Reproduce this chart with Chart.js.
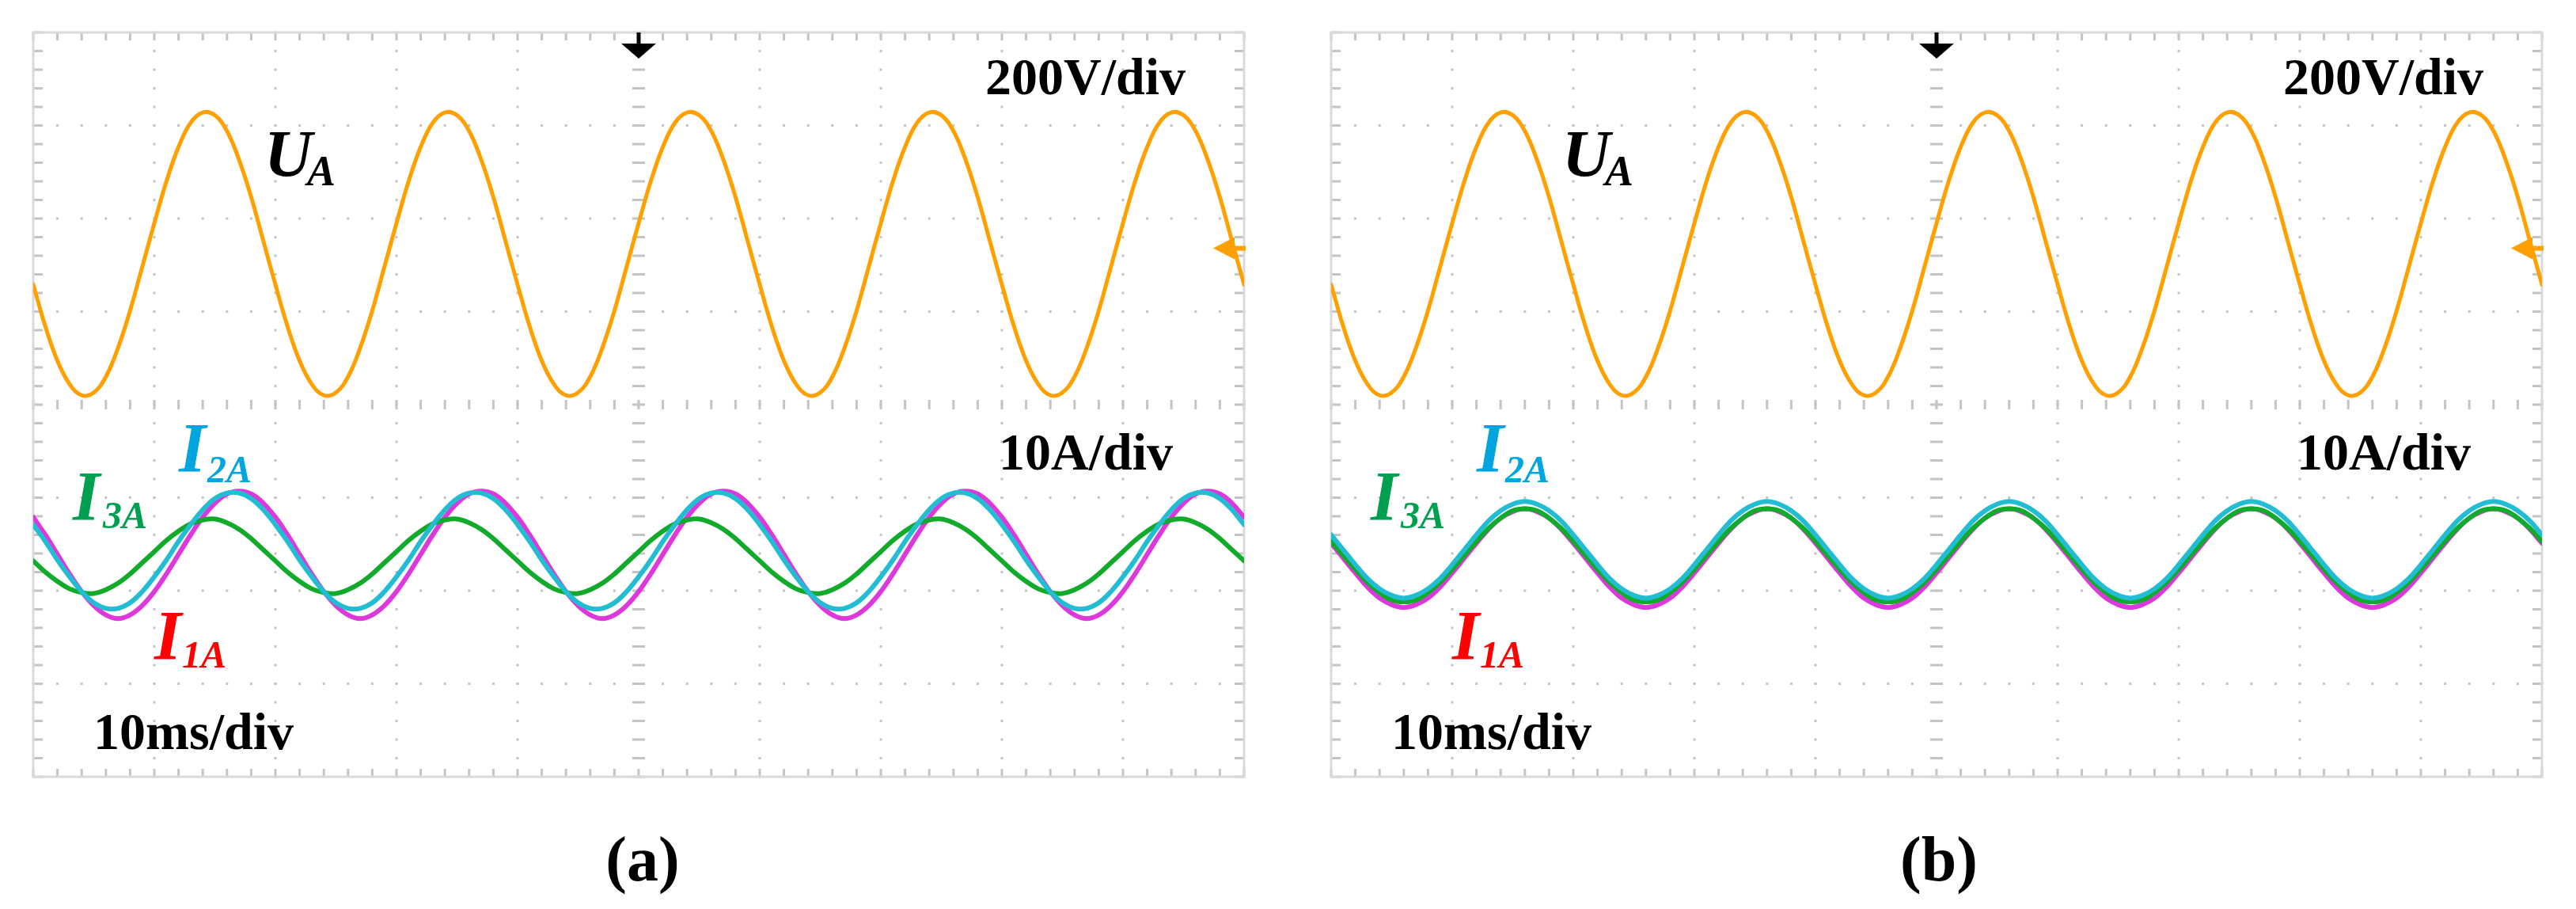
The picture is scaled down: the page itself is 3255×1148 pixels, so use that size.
<!DOCTYPE html>
<html>
<head>
<meta charset="utf-8">
<script src="https://cdn.jsdelivr.net/npm/chart.js@4.4.1/dist/chart.umd.min.js"></script>
<style>
	body { margin: 0; width: 3255px; height: 1148px; background: #fff; position: relative; overflow: hidden; font-family: "Liberation Serif", "Times New Roman", serif }
	.scope { position: absolute; top: 37px; width: 1538px; height: 948px }
	.txt { position: absolute; line-height: 1; white-space: nowrap }
</style>
</head>
<body>
<div class="scope" style="left: 38px"><canvas id="scope-a"></canvas></div>
<div class="scope" style="left: 1678px"><canvas id="scope-b"></canvas></div>
<script>
// time in ms (10 ms/div), values in screen divisions
const times = [0, 1, 2, 3, 4, 5, 6, 7, 8, 9, 10, 11, 12, 13, 14, 15, 16, 17, 18, 19,
	20, 21, 22, 23, 24, 25, 26, 27, 28, 29, 30, 31, 32, 33, 34, 35, 36, 37, 38, 39,
	40, 41, 42, 43, 44, 45, 46, 47, 48, 49, 50, 51, 52, 53, 54, 55, 56, 57, 58, 59,
	60, 61, 62, 63, 64, 65, 66, 67, 68, 69, 70, 71, 72, 73, 74, 75, 76, 77, 78, 79,
	80, 81, 82, 83, 84, 85, 86, 87, 88, 89, 90, 91, 92, 93, 94, 95, 96, 97, 98, 99, 100]

const uA = [1.29, 0.84, 0.47, 0.22, 0.10, 0.13, 0.30, 0.61, 1.01, 1.48, 1.95, 2.40, 2.77, 3.03, 3.14, 3.11, 2.94, 2.63, 2.23, 1.76,
	1.29, 0.84, 0.47, 0.22, 0.10, 0.13, 0.30, 0.61, 1.01, 1.48, 1.95, 2.40, 2.77, 3.03, 3.14, 3.11, 2.94, 2.63, 2.23, 1.76,
	1.29, 0.84, 0.47, 0.22, 0.10, 0.13, 0.30, 0.61, 1.01, 1.48, 1.95, 2.40, 2.77, 3.03, 3.14, 3.11, 2.94, 2.63, 2.23, 1.76,
	1.29, 0.84, 0.47, 0.22, 0.10, 0.13, 0.30, 0.61, 1.01, 1.48, 1.95, 2.40, 2.77, 3.03, 3.14, 3.11, 2.94, 2.63, 2.23, 1.76,
	1.29, 0.84, 0.47, 0.22, 0.10, 0.13, 0.30, 0.61, 1.01, 1.48, 1.95, 2.40, 2.77, 3.03, 3.14, 3.11, 2.94, 2.63, 2.23, 1.76, 1.29]

// (a)
const i1a = [-1.21, -1.40, -1.61, -1.82, -2.01, -2.16, -2.26, -2.30, -2.26, -2.16, -2.01, -1.82, -1.61, -1.40, -1.21, -1.06, -0.96, -0.93, -0.96, -1.06,
	-1.21, -1.40, -1.61, -1.82, -2.01, -2.16, -2.26, -2.30, -2.26, -2.16, -2.01, -1.82, -1.61, -1.40, -1.21, -1.06, -0.96, -0.93, -0.96, -1.06,
	-1.21, -1.40, -1.61, -1.82, -2.01, -2.16, -2.26, -2.30, -2.26, -2.16, -2.01, -1.82, -1.61, -1.40, -1.21, -1.06, -0.96, -0.93, -0.96, -1.06,
	-1.21, -1.40, -1.61, -1.82, -2.01, -2.16, -2.26, -2.30, -2.26, -2.16, -2.01, -1.82, -1.61, -1.40, -1.21, -1.06, -0.96, -0.93, -0.96, -1.06,
	-1.21, -1.40, -1.61, -1.82, -2.01, -2.16, -2.26, -2.30, -2.26, -2.16, -2.01, -1.82, -1.61, -1.40, -1.21, -1.06, -0.96, -0.93, -0.96, -1.06, -1.21]
const i2a = [-1.29, -1.47, -1.67, -1.85, -2.01, -2.13, -2.19, -2.19, -2.13, -2.01, -1.85, -1.67, -1.47, -1.29, -1.13, -1.01, -0.95, -0.95, -1.01, -1.13,
	-1.29, -1.47, -1.67, -1.85, -2.01, -2.13, -2.19, -2.19, -2.13, -2.01, -1.85, -1.67, -1.47, -1.29, -1.13, -1.01, -0.95, -0.95, -1.01, -1.13,
	-1.29, -1.47, -1.67, -1.85, -2.01, -2.13, -2.19, -2.19, -2.13, -2.01, -1.85, -1.67, -1.47, -1.29, -1.13, -1.01, -0.95, -0.95, -1.01, -1.13,
	-1.29, -1.47, -1.67, -1.85, -2.01, -2.13, -2.19, -2.19, -2.13, -2.01, -1.85, -1.67, -1.47, -1.29, -1.13, -1.01, -0.95, -0.95, -1.01, -1.13,
	-1.29, -1.47, -1.67, -1.85, -2.01, -2.13, -2.19, -2.19, -2.13, -2.01, -1.85, -1.67, -1.47, -1.29, -1.13, -1.01, -0.95, -0.95, -1.01, -1.13, -1.29]
const i3a = [-1.68, -1.80, -1.90, -1.98, -2.02, -2.03, -1.99, -1.92, -1.82, -1.70, -1.58, -1.46, -1.36, -1.28, -1.24, -1.23, -1.27, -1.34, -1.44, -1.56,
	-1.68, -1.80, -1.90, -1.98, -2.02, -2.03, -1.99, -1.92, -1.82, -1.70, -1.58, -1.46, -1.36, -1.28, -1.24, -1.23, -1.27, -1.34, -1.44, -1.56,
	-1.68, -1.80, -1.90, -1.98, -2.02, -2.03, -1.99, -1.92, -1.82, -1.70, -1.58, -1.46, -1.36, -1.28, -1.24, -1.23, -1.27, -1.34, -1.44, -1.56,
	-1.68, -1.80, -1.90, -1.98, -2.02, -2.03, -1.99, -1.92, -1.82, -1.70, -1.58, -1.46, -1.36, -1.28, -1.24, -1.23, -1.27, -1.34, -1.44, -1.56,
	-1.68, -1.80, -1.90, -1.98, -2.02, -2.03, -1.99, -1.92, -1.82, -1.70, -1.58, -1.46, -1.36, -1.28, -1.24, -1.23, -1.27, -1.34, -1.44, -1.56, -1.68]

// (b)
const i1b = [-1.49, -1.65, -1.81, -1.96, -2.08, -2.15, -2.18, -2.15, -2.08, -1.96, -1.81, -1.65, -1.49, -1.34, -1.22, -1.15, -1.12, -1.15, -1.22, -1.34,
	-1.49, -1.65, -1.81, -1.96, -2.08, -2.15, -2.18, -2.15, -2.08, -1.96, -1.81, -1.65, -1.49, -1.34, -1.22, -1.15, -1.12, -1.15, -1.22, -1.34,
	-1.49, -1.65, -1.81, -1.96, -2.08, -2.15, -2.18, -2.15, -2.08, -1.96, -1.81, -1.65, -1.49, -1.34, -1.22, -1.15, -1.12, -1.15, -1.22, -1.34,
	-1.49, -1.65, -1.81, -1.96, -2.08, -2.15, -2.18, -2.15, -2.08, -1.96, -1.81, -1.65, -1.49, -1.34, -1.22, -1.15, -1.12, -1.15, -1.22, -1.34,
	-1.49, -1.65, -1.81, -1.96, -2.08, -2.15, -2.18, -2.15, -2.08, -1.96, -1.81, -1.65, -1.49, -1.34, -1.22, -1.15, -1.12, -1.15, -1.22, -1.34, -1.49]
const i2b = [-1.40, -1.56, -1.72, -1.87, -1.98, -2.05, -2.08, -2.05, -1.98, -1.87, -1.72, -1.56, -1.40, -1.25, -1.14, -1.07, -1.04, -1.07, -1.14, -1.25,
	-1.40, -1.56, -1.72, -1.87, -1.98, -2.05, -2.08, -2.05, -1.98, -1.87, -1.72, -1.56, -1.40, -1.25, -1.14, -1.07, -1.04, -1.07, -1.14, -1.25,
	-1.40, -1.56, -1.72, -1.87, -1.98, -2.05, -2.08, -2.05, -1.98, -1.87, -1.72, -1.56, -1.40, -1.25, -1.14, -1.07, -1.04, -1.07, -1.14, -1.25,
	-1.40, -1.56, -1.72, -1.87, -1.98, -2.05, -2.08, -2.05, -1.98, -1.87, -1.72, -1.56, -1.40, -1.25, -1.14, -1.07, -1.04, -1.07, -1.14, -1.25,
	-1.40, -1.56, -1.72, -1.87, -1.98, -2.05, -2.08, -2.05, -1.98, -1.87, -1.72, -1.56, -1.40, -1.25, -1.14, -1.07, -1.04, -1.07, -1.14, -1.25, -1.40]
const i3b = [-1.47, -1.62, -1.77, -1.91, -2.02, -2.10, -2.12, -2.10, -2.02, -1.91, -1.77, -1.62, -1.47, -1.33, -1.22, -1.14, -1.12, -1.14, -1.22, -1.33,
	-1.47, -1.62, -1.77, -1.91, -2.02, -2.10, -2.12, -2.10, -2.02, -1.91, -1.77, -1.62, -1.47, -1.33, -1.22, -1.14, -1.12, -1.14, -1.22, -1.33,
	-1.47, -1.62, -1.77, -1.91, -2.02, -2.10, -2.12, -2.10, -2.02, -1.91, -1.77, -1.62, -1.47, -1.33, -1.22, -1.14, -1.12, -1.14, -1.22, -1.33,
	-1.47, -1.62, -1.77, -1.91, -2.02, -2.10, -2.12, -2.10, -2.02, -1.91, -1.77, -1.62, -1.47, -1.33, -1.22, -1.14, -1.12, -1.14, -1.22, -1.33,
	-1.47, -1.62, -1.77, -1.91, -2.02, -2.10, -2.12, -2.10, -2.02, -1.91, -1.77, -1.62, -1.47, -1.33, -1.22, -1.14, -1.12, -1.14, -1.22, -1.33, -1.47]

// channel 1 ground marker and trigger position
const uLevel = 1.68
const trigTime = 50

const scopeGrid = {
	id: "scopeGrid",
	beforeDatasetsDraw(chart) {
		const { ctx, chartArea: a, scales: { x, y } } = chart
		ctx.save()
		ctx.fillStyle = "#c4c4c4"
		for (let i = 0; i <= 40; i++) {
			const py = y.getPixelForValue(-4 + i * 0.2)
			for (let d = 1; d < 10; d++) {
				const px = x.getPixelForValue(d * 10)
				if (d === 5) ctx.fillRect(px - 8, py - 1.5, 16, 3)
				else ctx.fillRect(px - 1.5, py - 1.5, 3, 3)
			}
			ctx.fillRect(a.left, py - 1.5, 12, 3)
			ctx.fillRect(a.right - 12, py - 1.5, 12, 3)
		}
		for (let j = 0; j <= 50; j++) {
			const px = x.getPixelForValue(j * 2)
			for (let d = -3; d <= 3; d++) {
				const py = y.getPixelForValue(d)
				if (d === 0) ctx.fillRect(px - 1.5, py - 6, 3, 12)
				else ctx.fillRect(px - 1.5, py - 1.5, 3, 3)
			}
			ctx.fillRect(px - 1.5, a.top, 3, 10)
			ctx.fillRect(px - 1.5, a.bottom - 10, 3, 10)
		}
		ctx.strokeStyle = "#dadada"
		ctx.lineWidth = 3
		ctx.strokeRect(a.left, a.top, a.right - a.left, a.bottom - a.top)
		ctx.restore()
	},
	afterDatasetsDraw(chart) {
		const { ctx, chartArea: a, scales: { x, y } } = chart
		ctx.save()
		const tx = x.getPixelForValue(trigTime)
		ctx.fillStyle = "#000"
		ctx.fillRect(tx - 2.5, a.top, 5, 20)
		ctx.beginPath()
		ctx.moveTo(tx - 22, a.top + 14)
		ctx.lineTo(tx + 22, a.top + 14)
		ctx.lineTo(tx, a.top + 33)
		ctx.closePath()
		ctx.fill()
		const gy = y.getPixelForValue(uLevel)
		ctx.fillStyle = "#ffa000"
		ctx.beginPath()
		ctx.moveTo(a.right - 39, gy)
		ctx.lineTo(a.right - 12, gy - 14)
		ctx.lineTo(a.right - 12, gy + 14)
		ctx.closePath()
		ctx.fill()
		ctx.fillRect(a.right - 14, gy - 3, 16, 6)
		ctx.restore()
	}
}

function trace(values, color, width) {
	return {
		data: times.map((t, i) => ({ x: t, y: values[i] })),
		borderColor: color,
		borderWidth: width,
		pointRadius: 0,
		tension: 0.4,
		borderJoinStyle: "round",
		borderCapStyle: "round"
	}
}

function scope(id, i1, i2, i3) {
	new Chart(document.getElementById(id).getContext("2d"), {
		type: "line",
		data: {
			datasets: [
				trace(uA, "#ffa000", 5),
				trace(i2, "#22bdd2", 6),
				trace(i3, "#12aa2a", 6),
				trace(i1, "#dc38dc", 6)
			]
		},
		options: {
			responsive: true,
			maintainAspectRatio: false,
			animation: false,
			events: [],
			layout: { padding: 4 },
			scales: {
				x: { type: "linear", min: 0, max: 100, display: false },
				y: { type: "linear", min: -4, max: 4, display: false }
			},
			plugins: {
				legend: { display: false },
				tooltip: { enabled: false }
			}
		},
		plugins: [scopeGrid]
	})
}

scope("scope-a", i1a, i2a, i3a)
scope("scope-b", i1b, i2b, i3b)

// text, left, baseline, size, style, color
const labels = [
	["200V/div", 1245, 119, 66, "bold", "#000"],
	["10A/div", 1262, 593, 66, "bold", "#000"],
	["10ms/div", 118, 946, 66, "bold", "#000"],
	["U", 334, 223, 84, "bold italic", "#000"],
	["A", 388, 234, 54, "bold italic", "#000"],
	["I", 226, 596, 88, "bold italic", "#00a5e0"],
	["2A", 262, 609, 48, "bold italic", "#00a5e0"],
	["I", 92, 657, 88, "bold italic", "#00a050"],
	["3A", 130, 667, 48, "bold italic", "#00a050"],
	["I", 195, 833, 88, "bold italic", "#ff0000"],
	["1A", 230, 843, 48, "bold italic", "#ff0000"]
]

function put(text, left, base, size, style, color) {
	const el = document.createElement("div")
	el.className = "txt"
	el.textContent = text
	el.style.left = left + "px"
	el.style.top = (base - 0.8375 * size) + "px"
	el.style.fontSize = size + "px"
	if (style.includes("bold")) el.style.fontWeight = "bold"
	if (style.includes("italic")) el.style.fontStyle = "italic"
	el.style.color = color
	document.body.appendChild(el)
	return el
}

;[0, 1640].forEach(dx => labels.forEach(l => put(l[0], l[1] + dx, l[2], l[3], l[4], l[5])))
put("(a)", 812, 1112, 80, "bold", "#000").style.transform = "translateX(-50%)"
put("(b)", 2450, 1112, 80, "bold", "#000").style.transform = "translateX(-50%)"
</script>
</body>
</html>
